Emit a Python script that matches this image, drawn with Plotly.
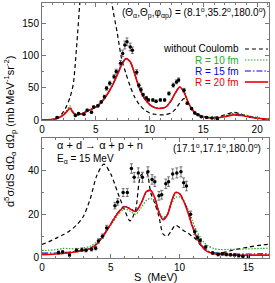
import plotly.graph_objects as go

# ---------------- top panel data ----------------
S_top = [0, 0.5, 1, 1.5, 2, 2.3, 2.6, 2.9, 3.2, 3.6, 4, 4.5, 5, 5.5, 6, 6.5, 7, 7.4, 7.8, 8.2,
         8.6, 9, 9.5, 10, 10.5, 11, 11.5, 12, 12.4, 12.8, 13.2, 13.6, 14, 14.5, 15, 16, 17,
         17.8, 18.5, 19.5, 20.5, 21.1]
top_noC = [0, 0.3, 1, 4, 13, 22, 35, 55, 110, 200, 280, 330, 340, 330, 280, 181, 134, 95, 72, 52,
           36, 25, 16, 11, 9, 8, 8.5, 11, 17, 26, 33, 26, 14, 7, 4, 4, 8, 12, 9, 4, 1.5, 1]
top_R10 = [0, 0.3, 1, 3.5, 9, 15, 22, 13, 9, 10, 12.5, 16.5, 21, 28, 39, 53, 71, 86, 95, 90,
           72, 52, 34, 24.5, 19.5, 18.5, 20.5, 30, 42, 51, 44, 28, 16, 9, 6, 4, 6.5, 10.5, 9.5, 5.5, 2.5, 1.5]
top_R15 = [0, 0.3, 1, 3, 8, 13, 18.5, 11.5, 8.2, 9.2, 12, 16, 20, 27, 38, 52, 70, 85, 95, 90,
           72, 52, 34, 24, 19, 18, 20, 30, 42, 51, 43, 27, 15, 8, 5, 3.3, 5.5, 9, 8, 4.5, 2, 1.5]
top_R20 = [0, 0.3, 1, 3, 8, 13, 18, 11, 8, 9, 12, 16, 20, 27, 38, 52, 70, 85, 95, 90,
           72, 52, 34, 24, 19, 18, 20, 30, 42, 51, 43, 27, 15, 8, 5, 3, 5, 8, 7, 4, 2, 1.5]

S_top_exp = [1.4, 3.1, 3.4, 3.9, 4.2, 4.6, 4.8, 5.2, 5.5, 5.8, 6.0, 6.3, 6.7, 6.9, 7.3, 7.5, 7.7,
             7.9, 8.2, 8.4, 8.8, 9.0, 9.2, 9.4, 9.7, 9.9, 10.3, 10.6, 11.0, 11.4, 11.8, 12.2,
             12.5, 12.7, 13.2, 13.5, 13.9, 14.2, 14.5, 14.8, 15.3, 15.8, 16.3]
top_exp = [4, 7, 10, 9, 15, 12, 20, 22, 28, 36, 49, 57, 67, 75, 88, 103, 116, 121, 113, 108, 74,
           54, 47, 39, 34, 31, 31, 29, 31, 31, 41, 54, 59, 62, 46, 26, 18, 11, 8, 5, 4, 3, 2]
top_err = [1, 1.5, 1.5, 1.5, 2, 2, 2, 2, 2, 2.5, 3, 3, 3, 3.5, 4, 5, 6, 6, 6, 5, 4, 3, 3, 2.5,
           2.5, 2, 2, 2, 2, 2, 2.5, 3, 3, 3, 3, 2, 1.5, 1.5, 1, 1, 1, 1, 1]

# ---------------- bottom panel data ----------------
S_bot = [0, 0.5, 1, 1.5, 2, 2.5, 3, 3.5, 4, 4.5, 5, 5.5, 6, 6.4, 6.8, 7.2, 7.6, 7.9, 8.2, 8.5,
         8.8, 9.1, 9.4, 9.7, 10, 10.3, 10.6, 10.9, 11.2, 11.5, 11.8, 12.1, 12.5, 13, 13.5, 14,
         15, 16, 16.5]
bot_noC = [6.2, 7.5, 9, 10.5, 12.4, 15, 19, 27, 38, 43, 38.5, 30, 22, 17, 22, 38, 39, 30, 25, 19,
           11, 10, 12.5, 15, 14, 12.5, 11.5, 10, 8.5, 6, 4, 2.8, 2.3, 2.3, 3, 3.8, 5, 6, 6.3]
bot_R10 = [3.5, 3.6, 3.8, 4.4, 4.3, 4.2, 4.6, 5.4, 7.5, 11, 15, 19.5, 22.5, 21.5, 20, 23, 26.5,
           27.3, 25.5, 21, 18.5, 20, 24.5, 27.8, 28, 26, 22.5, 17.5, 13, 9.5, 7, 5.5, 4.3, 3.9,
           3.9, 4.0, 4.2, 4.4, 4.5]
bot_R15 = [2.2, 2.2, 2.3, 2.5, 2.7, 3.1, 3.6, 4.5, 6.7, 10.7, 15.7, 20.7, 23.7, 22.7, 21.5, 25,
           30.3, 30.8, 27.5, 21.2, 17.8, 19.7, 25.5, 29.8, 29.5, 26.3, 21.5, 15.5, 10.5, 7, 4.5,
           3.1, 2.4, 2, 1.9, 1.8, 1.8, 1.9, 1.9]
bot_R20 = [1.5, 1.6, 1.8, 2.1, 2.4, 2.9, 3.4, 4.3, 6.5, 10.5, 15.5, 20.5, 23.5, 22.5, 21.3, 25,
           30.5, 31, 27.5, 21, 17.5, 19.5, 25.5, 30, 29.5, 26, 21, 15, 10, 6.5, 4, 2.7, 2, 1.6,
           1.4, 1.3, 1.3, 1.3, 1.3]

S_bot_exp = [1.2, 1.5, 2.0, 2.5, 2.9, 3.2, 3.6, 3.9, 4.1, 4.4, 4.7, 5.3, 5.5, 5.9, 6.2, 6.5, 6.7,
             7.0, 7.3, 7.7, 8.0, 8.2, 8.5, 8.7, 9.0, 9.2, 9.5, 9.8, 10.1, 10.3, 10.5, 10.8, 11.1,
             11.3, 11.5, 11.9, 12.4, 12.8, 13.1, 13.4, 13.7, 14.0, 14.3, 14.6, 15.0]
bot_exp = [2.5, 2.7, 1.4, 3.6, 3.8, 3.6, 4.0, 4.5, 7.8, 10, 13.8, 24, 25.7, 30, 30, 41, 37, 39,
           37, 39.5, 36, 35, 28.5, 29, 34, 35, 38.5, 39, 39.5, 34.5, 33, 20, 12, 9.4, 8, 5, 2.3,
           1.6, 1.9, 1.6, 1.5, 1.4, 1.0, 0.8, 0.6]
bot_err = [0.7, 0.7, 0.7, 0.8, 0.8, 0.8, 0.8, 0.8, 1, 1, 1.2, 1.5, 1.5, 1.8, 1.8, 2.2, 2.2, 2.3,
           2.3, 2.3, 2.2, 2.2, 2, 2, 2.2, 2.2, 2.3, 2.3, 2.3, 2.2, 2.2, 1.5, 1.2, 1, 1, 0.8, 0.6,
           0.6, 0.6, 0.6, 0.6, 0.6, 0.5, 0.5, 0.5]

legend_names = ["without Coulomb", "R = 10 fm", "R = 15 fm", "R = 20 fm"]
legend_colors = ["black", "#22aa22", "#0000ee", "#ee0000"]
legend_dash = ["4px,3px", "1.5px,1.5px", "6px,2px,1.5px,2px", "solid"]

FONT = "Liberation Sans, Arial, sans-serif"

fig = go.Figure()

def lw(d):
    return 1.6 if d == "solid" else 1.2

def add_curves(x, ys, xa, ya):
    for y, c, d in zip(ys, legend_colors, legend_dash):
        fig.add_trace(go.Scatter(x=x, y=y, mode="lines", xaxis=xa, yaxis=ya,
                                 line=dict(color=c, dash=d, width=lw(d),
                                           shape="spline", smoothing=0.8),
                                 showlegend=False, hoverinfo="skip"))

def add_points(x, y, e, xa, ya):
    fig.add_trace(go.Scatter(x=x, y=y, mode="markers", xaxis=xa, yaxis=ya,
                             marker=dict(color="black", size=3.5),
                             error_y=dict(type="data", array=e, color="#555", thickness=0.8, width=1.5),
                             showlegend=False, hoverinfo="skip"))

add_curves(S_top, [top_noC, top_R10, top_R15, top_R20], "x", "y")
add_points(S_top_exp, top_exp, top_err, "x", "y")
add_curves(S_bot, [bot_noC, bot_R10, bot_R15, bot_R20], "x2", "y2")
add_points(S_bot_exp, bot_exp, bot_err, "x2", "y2")

axis_common = dict(showline=True, linecolor="#777", linewidth=1, mirror="allticks",
                   ticks="inside", ticklen=4, tickcolor="#777", showgrid=False, zeroline=False,
                   tickfont=dict(family=FONT, size=10, color="black"))

fig.update_layout(
    width=275, height=283,
    margin=dict(l=42, r=6, t=3, b=25),
    paper_bgcolor="white", plot_bgcolor="white",
    font=dict(family=FONT, size=10, color="black"),
    xaxis=dict(domain=[0, 1], anchor="y", range=[0, 21.1], dtick=5,
               minor=dict(dtick=1, ticklen=2, ticks="inside", tickcolor="#777"), **axis_common),
    yaxis=dict(domain=[0.541, 1.0], anchor="x", range=[0, 181], dtick=50,
               minor=dict(dtick=25, ticklen=2, ticks="inside", tickcolor="#777"), **axis_common),
    xaxis2=dict(domain=[0, 1], anchor="y2", range=[0, 16.5], dtick=5,
                minor=dict(dtick=1, ticklen=2, ticks="inside", tickcolor="#777"), **axis_common),
    yaxis2=dict(domain=[0, 0.4706], anchor="x2", range=[0, 55], dtick=20,
                minor=dict(dtick=10, ticklen=2, ticks="inside", tickcolor="#777"), **axis_common),
)

# legend (manual, text right-aligned with line sample on the right)
leg_y = [0.607, 0.513, 0.419, 0.325]
for name, c, d, yy in zip(legend_names, legend_colors, legend_dash, leg_y):
    fig.add_annotation(x=0.877, y=yy, xref="x domain", yref="y domain", text=name,
                       showarrow=False, xanchor="right", yanchor="middle",
                       font=dict(family=FONT, size=10, color=c))
    fig.add_shape(type="line", x0=0.894, x1=0.996, y0=yy, y1=yy, xref="x domain", yref="y domain",
                  line=dict(color=c, dash=d, width=lw(d)))

fig.add_annotation(x=0.995, y=0.915, xref="x domain", yref="y domain",
                   text="(Θ<sub>α</sub>,Θ<sub>p</sub>,φ<sub>αp</sub>) = (8.1<sup>o</sup>,35.2<sup>o</sup>,180.0<sup>o</sup>)",
                   showarrow=False, xanchor="right", yanchor="middle",
                   font=dict(family=FONT, size=10))
fig.add_annotation(x=0.057, y=0.942, xref="x2 domain", yref="y2 domain",
                   text="α + d → α + p + n", showarrow=False, xanchor="left", yanchor="middle",
                   font=dict(family=FONT, size=11))
fig.add_annotation(x=0.057, y=0.825, xref="x2 domain", yref="y2 domain",
                   text="E<sub>α</sub> = 15 MeV", showarrow=False, xanchor="left", yanchor="middle",
                   font=dict(family=FONT, size=10))
fig.add_annotation(x=0.974, y=0.917, xref="x2 domain", yref="y2 domain",
                   text="(17.1<sup>o</sup>,17.1<sup>o</sup>,180.0<sup>o</sup>)", showarrow=False,
                   xanchor="right", yanchor="middle", font=dict(family=FONT, size=10))
fig.add_annotation(x=-0.141, y=0.498, xref="paper", yref="paper", textangle=-90,
                   text="d<sup>5</sup>σ/dS dΩ<sub>α</sub> dΩ<sub>p</sub> (mb MeV<sup>-1</sup>sr<sup>-2</sup>)",
                   showarrow=False, xanchor="center", yanchor="middle",
                   font=dict(family=FONT, size=11))
fig.add_annotation(x=0.5, y=-0.0745, xref="paper", yref="paper", text="S  (MeV)",
                   showarrow=False, xanchor="center", yanchor="middle",
                   font=dict(family=FONT, size=11))

fig.write_html("out.html", config={"displayModeBar": False},
               post_script="document.body.style.margin='0';document.body.style.padding='0';")
